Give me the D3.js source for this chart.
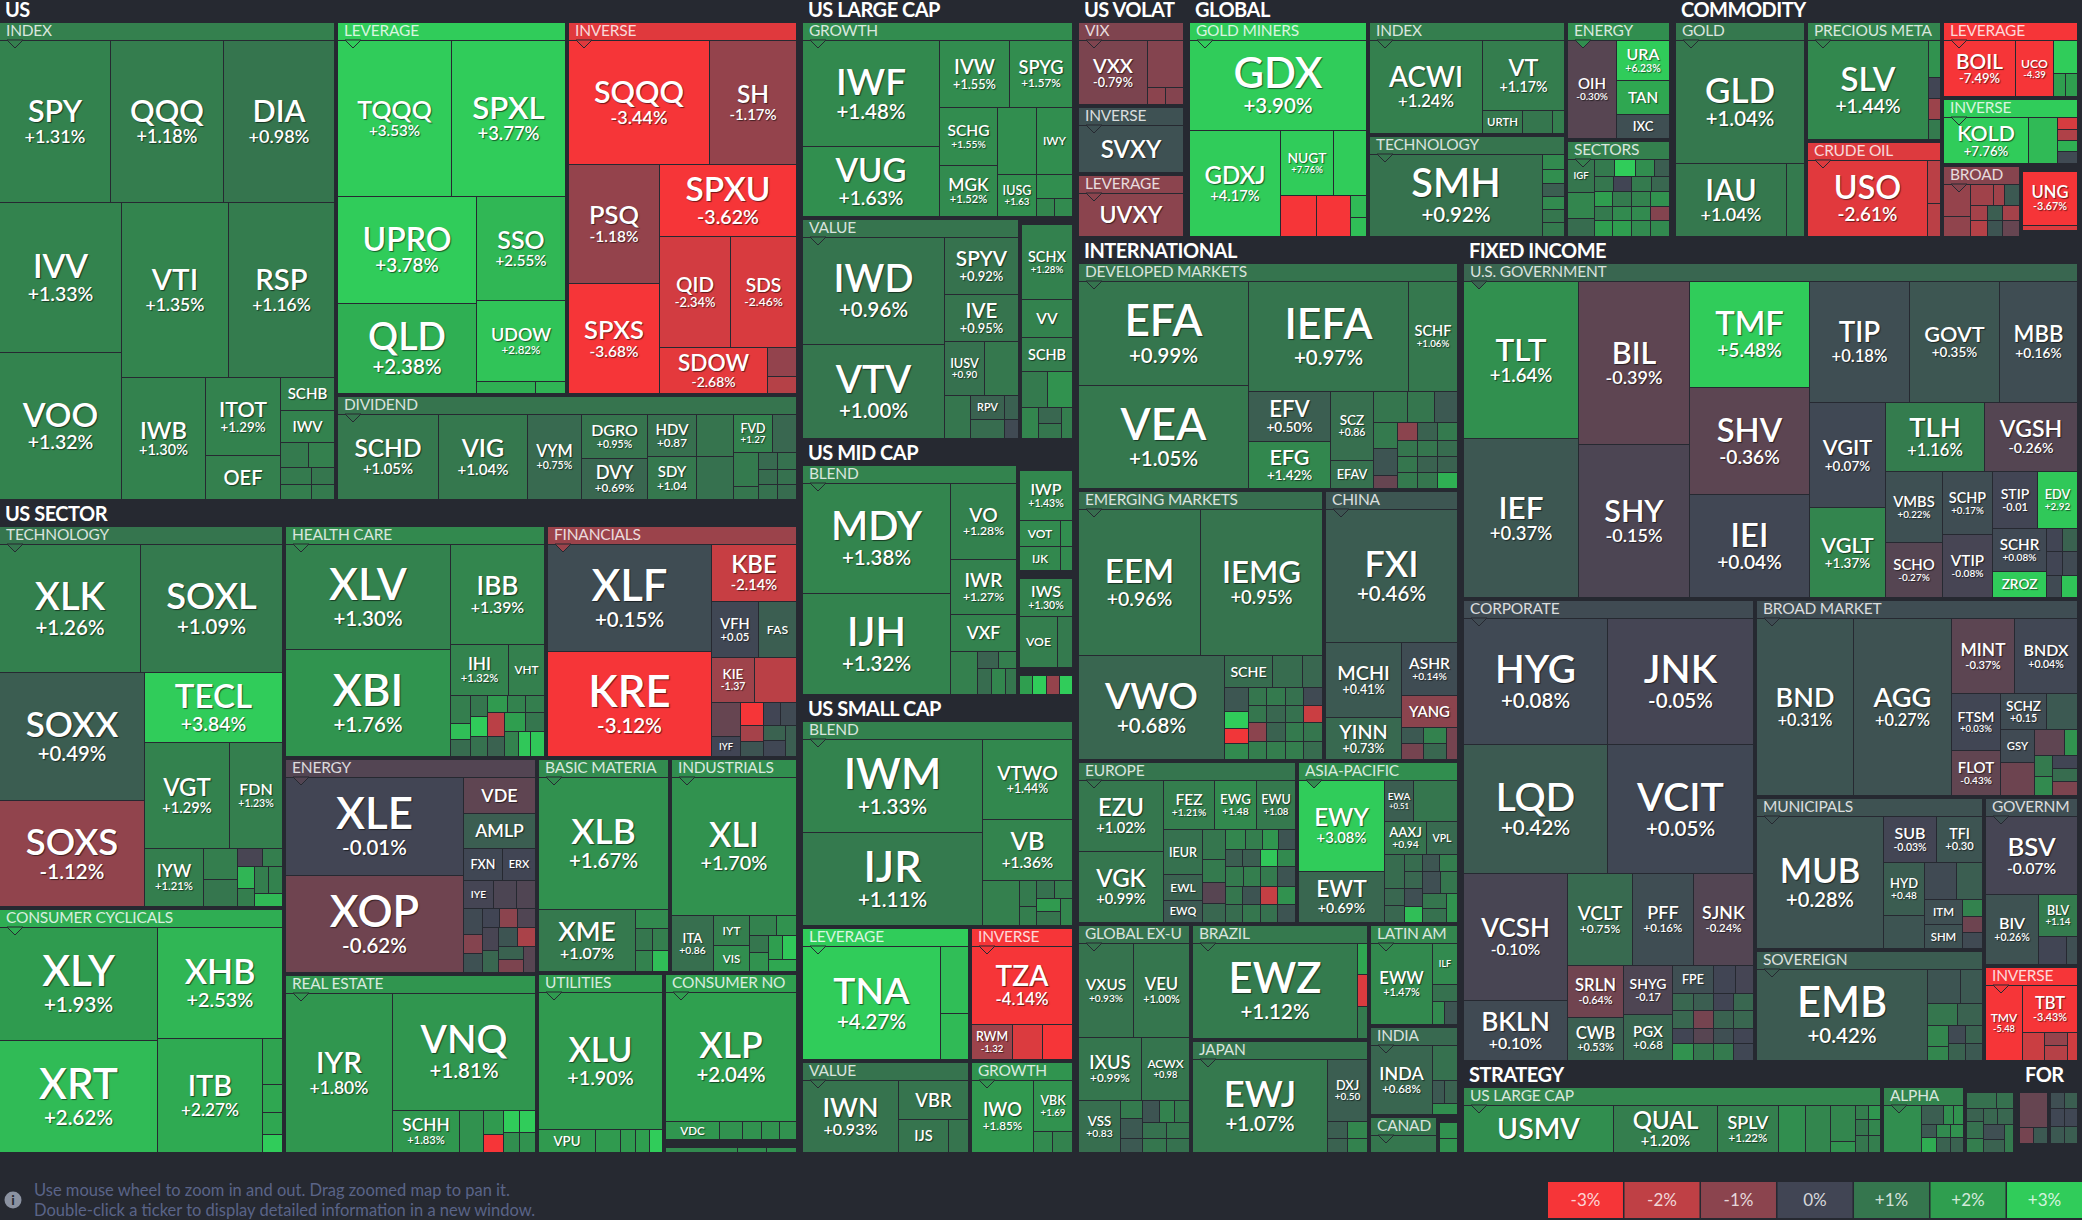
<!DOCTYPE html>
<html>
<head>
<meta charset="utf-8">
<title>ETF map</title>
<script src="https://cdn.jsdelivr.net/npm/d3@7"></script>
<style>
  html, body { margin: 0; padding: 0; background: #262931; overflow: hidden; }
  svg { display: block; font-family: Lato, "Open Sans", sans-serif; }
  .ticker, .change { fill: #fff; font-weight: 600; text-anchor: middle; text-shadow: 1px 1px 1px rgba(0, 0, 0, 0.55); }
</style>
</head>
<body>
<svg id="map" width="2082" height="1220"></svg>
<script>
// Each row is [ticker, change, size]. A string change is printed in the cell,
// a plain number only sets the colour. Size is the cell's treemap value.
// Strip lists say how a block is cut: n > 0 a row of n cells across the top,
// n < 0 a column of n cells down the left.

// --- US ---
var usIndex = [["SPY","+1.31%",17982],["QQQ","+1.18%",18144],["DIA","+0.98%",17982],["IVV","+1.33%",18178],["VOO","+1.32%",17934],["VTI","+1.35%",18444],["RSP","+1.16%",18444],["IWB","+1.30%",10126],["ITOT","+1.29%",5850],["OEF",1.25,3300],["SCHB",1.3,1782],["IWV",1.3,1728],["",1.1,700],["",1.25,650],["",1.1,527],["",1.2,465],["",1.0,391],["",1.1,345]];
var usIndexStrips = [3,-2,2,-1,-2,1,1,2,-2,1,1];
var usLeverage = [["TQQQ","+3.53%",17628],["SPXL","+3.77%",17784],["UPRO","+3.78%",14628],["QLD","+2.38%",12420],["SSO","+2.55%",9167],["UDOW","+2.82%",7209],["",2.4,708],["",2.5,360]];
var usLeverageStrips = [2,-2,1,1,-1,-1];
var usInverse = [["SQQQ","-3.44%",17360],["SH","-1.17%",10788],["PSQ","-1.18%",10738],["SPXS","-3.68%",10010],["SPXU","-3.62%",9656],["QID","-2.34%",7770],["SDS","-2.46%",7326],["SDOW","-2.68%",4922],["",-1.15,841],["",-1.8,493]];
var usInverseStrips = [2,-2,1,2,-1,1,1];
var usDividend = [["SCHD","+1.05%",8585],["VIG","+1.04%",7565],["VYM","+0.75%",4505],["DGRO","+0.95%",2904],["DVY","+0.69%",2706],["HDV","+0.87",2058],["SDY","+1.04",2107],["",0.95,1554],["",0.9,1591],["FVD","+1.27",1482],["",0.7,912],["",1.1,850],["",1.0,325],["",0.75,323],["",0.9,323],["",0.8,285],["",0.9,285],["",0.9,285],["",0.8,285]];
var usDividendStrips = [-1,-1,-1,-2,-2,-2,2,-2,2,2,2];

// --- US large cap ---
var lcGrowth = [["IWF","+1.48%",14280],["VUG","+1.63%",9520],["IVW","+1.55%",4690],["SPYG","+1.57%",4221],["SCHG","+1.55%",3306],["MGK","+1.52%",2958],["",1.6,2574],["IWY",1.6,2376],["IUSG","+1.63",1638],["",1.6,864],["",1.4,324],["",1.5,324]];
var lcGrowthStrips = [-2,2,-2,2,-1,1,2];
var lcValue = [["IWD","+0.96%",15087],["VTV","+1.00%",13254],["SPYV","+0.92%",4161],["IVE","+0.95%",3431],["IUSV","+0.90",2160],["",1.05,1782],["",1.0,1118],["RPV",0.6,816],["",0.55,312],["",0.8,646],["",0.1,247]];
var lcValueStrips = [-2,1,1,2,-1,2,2];
var lcOther = [["SCHX","+1.28%",3750],["VV",1.3,1850],["SCHB",1.2,1700],["",1.1,936],["",1.7,864],["",1.4,527],["",0.7,352],["",1.0,330],["",1.2,341]];
var lcOtherStrips = [1,1,1,2,-1,-2,-1];

// --- US mid cap ---
var mcBlend = [["MDY","+1.38%",16126],["IJH","+1.32%",14818],["VO","+1.28%",5016],["IWR","+1.27%",3630],["VXF",1.3,2442],["",1.25,1148],["",0.6,357],["",1.2,306],["",0.8,357],["",1.4,357],["",1.0,280]];
var mcBlendStrips = [-2,1,1,1,-1,2,3];
var mcGrowth = [["IWP","+1.43%",2574],["VOT",1.5,1040],["",1.6,312],["IJK",1.45,940],["",1.5,282]];
var mcGrowthStrips = [1,2,2];
var mcValue = [["IWS","+1.30%",1976],["VOE",1.2,1887],["",1.1,765]];
var mcValueStrips = [1,2];
var mcSmall = [["",2.0,234],["",3,234],["",-1.2,234],["",3,234]];

// --- US small cap ---
var scBlend = [["IWM","+1.33%",16737],["IJR","+1.11%",16737],["VTWO","+1.44%",7200],["VB","+1.36%",5490],["",1.25,1702],["",1.1,442],["",1.2,340],["",0.9,324],["",1.2,324],["",1.9,312],["",0.95,336],["",1.4,336]];
var scBlendStrips = [-2,1,1,-1,-2,2,-2,-1];
var scLeverage = [["TNA","+4.27%",15344],["",2.7,1848],["",2.6,1288]];
var scLeverageStrips = [-1,1,1];
var scInverse = [["TZA","-4.14%",7654],["RWM","-1.32",1400],["",-2.5,1050],["",-3.3,1050]];
var scInverseStrips = [1,3];
var scValue = [["IWN","+0.93%",6840],["VBR",0.95,2730],["IJS",0.95,1650],["",0.95,660]];
var scValueStrips = [-1,1,2];
var scGrowth = [["IWO","+1.85%",4356],["VBK","+1.69",1989],["",1.5,399],["",1.3,420]];
var scGrowthStrips = [-1,1,2];

// --- US sector ---
var secTech = [["XLK","+1.26%",17928],["SOXL","+1.09%",17992],["SOXX","+0.49%",18307],["SOXS","-1.12%",15275],["TECL","+3.84%",9646],["VGT","+1.29%",8957],["FDN","+1.23%",5512],["IYW","+1.21%",3422],["",1.2,1042],["",1.0,907],["",-0.1,450],["",1.2,351],["",2.5,385],["",1.2,315],["",1.2,365],["",1.3,365],["",2.6,351]];
var secTechStrips = [2,-2,1,2,-1,-2,2,-2,2,1];
var secCyclical = [["XLY","+1.93%",17662],["XRT","+2.62%",17584],["XHB","+2.53%",13820],["ITB","+2.27%",11865],["",2.1,887],["",2.2,546],["",2.2,429],["",3,341]];
var secCyclicalStrips = [-2,1,-1,1,1,1,1];
var secHealth = [["XLV","+1.30%",17220],["XBI","+1.76%",17384],["IBB","+1.39%",9247],["IHI","+1.32%",2958],["VHT",1.25,1805],["",1.2,554],["",2.7,334],["",0.8,342],["",1.0,338],["",3,322],["",0.9,330],["",1.9,335],["",1.3,311],["",1.2,313],["",-1.9,391],["",0.6,340],["",2.0,395],["",1.0,346],["",1.3,346],["",2.9,296],["",2.9,331]];
var secHealthStrips = [-2,1,2,-3,-3,3,-2,2,3];
var secFinancial = [["XLF","+0.15%",17331],["KRE","-3.12%",17168],["KBE","-2.14%",4774],["VFH","+0.05",2609],["FAS",0.5,2081],["KIE","-1.37",1957],["",-1.9,1888],["",-0.5,986],["IYF",0.0,565],["",-3.1,518],["",-1.5,360],["",0.3,331],["",0.0,391],["",0.1,368],["",0.6,324],["",0.05,333],["",0.5,349]];
var secFinancialStrips = [-2,1,2,2,-2,-3,2,-2,-1];
var secEnergy = [["XLE","-0.01%",17346],["XOP","-0.62%",17169],["VDE",-0.4,2599],["AMLP",0.5,2434],["FXN",0.05,1248],["ERX",0.0,1043],["IYE",-0.05,831],["",-0.15,637],["",-0.2,515],["",0.1,478],["",-0.9,350],["",0.25,355],["",0.0,347],["",-1.0,355],["",-0.2,347],["",-0.1,368],["",0.7,346],["",0.3,350],["",-1.6,331],["",0.6,331],["",-0.8,337],["",-0.3,302]];
var secEnergyStrips = [-2,1,1,2,3,-3,3,-2,2,-2,-1];
var secBasic = [["XLB","+1.67%",17028],["XME","+1.07%",6000],["",1.5,644],["",1.0,355],["",1.2,355],["",1.3,355],["",2.7,355]];
var secBasicStrips = [1,-1,1,2,2];
var secIndustrial = [["XLI","+1.70%",17153],["ITA","+0.86",2296],["IYT",1.2,1065],["VIS",1.6,923],["",1.3,536],["",1.7,380],["",1.0,323],["",1.7,361],["",2.0,330],["",2.9,330],["",2.2,347]];
var secIndustrialStrips = [1,-1,-2,2,-2,2,1];
var secRealEstate = [["IYR","+1.80%",17012],["VNQ","+1.81%",16567],["SCHH","+1.83%",2751],["",1.7,1008],["",1.9,480],["",-3.1,360],["",3,352],["",3,343],["",1.6,312],["",1.7,320]];
var secRealEstateStrips = [-1,1,-1,-1,-2,2,2];
var secUtilities = [["XLU","+1.90%",16947],["VPU",1.9,1322],["",1.9,597],["",1.9,339],["",2.0,316],["",3,320]];
var secUtilitiesStrips = [1,5];
var secStaples = [["XLP","+2.04%",16770],["VDC",1.8,979],["",1.7,412],["",1.7,348],["",1.7,329],["",1.7,311]];
var secStaplesStrips = [1,5];
var secOther = [["",1.5,340],["",1.6,135],["",1.6,142]];

// --- US volatility ---
var volVix = [["VXX","-0.79%",4345],["",-0.9,1634],["",-1.0,280],["",-0.9,280]];
var volVixStrips = [-1,1,2];
var volInverse = [["SVXY",0.25,4000]];
var volLeverage = [["UVXY",-1.0,4000]];

// --- Global ---
var globalGold = [["GDX","+3.90%",15806],["GDXJ","+4.17%",9555],["NUGT","+7.76%",3425],["",3.5,2145],["",-3.5,1440],["",-3.5,1340],["",2.6,344],["",2.7,299]];
var globalGoldStrips = [1,-1,2,-1,-1,1,1];
var globalIndex = [["ACWI","+1.24%",10360],["VT","+1.17%",5658],["URTH",1.05,940],["",1.0,705],["",1.2,282]];
var globalIndexStrips = [-1,1,3];
var globalTech = [["SMH","+0.92%",13863],["",1.5,326],["",1.6,304],["",0.5,293],["",1.5,293],["",1.0,293],["",1.1,293]];
var globalTechStrips = [-1,1,1,1,1,1,1];
var globalEnergy = [["OIH","-0.30%",4670],["URA","+6.23%",2094],["TAN",2.2,1802],["IXC",0.2,1272]];
var globalEnergyStrips = [-1,1,1,1];
var globalSectors = [["IGF",1.0,833],["",1.4,669],["",0.8,463],["",1.1,347],["",3,340],["",1.6,323],["",0.5,255],["",1.0,280],["",0.0,270],["",1.1,278],["",0.7,270],["",2.0,265],["",1.1,265],["",1.3,265],["",1.7,265],["",1.1,265],["",1.5,265],["",1.5,265],["",-0.9,265],["",2.0,290],["",2.0,290],["",1.5,290],["",1.5,290]];
var globalSectorsStrips = [-3,4,4,4,4,4];

// --- Commodity ---
var comGold = [["GLD","+1.04%",15643],["IAU","+1.04%",7920],["",1.1,1274]];
var comGoldStrips = [1,2];
var comPrecious = [["SLV","+1.44%",11722],["",1.7,462],["",0.0,267],["",-1.3,260],["",1.1,260]];
var comPreciousStrips = [-1,1,1,1,1];
var comCrude = [["USO","-2.61%",8877],["",-1.9,546],["",-1.9,416]];
var comCrudeStrips = [-1,1,1];
var comLeverage = [["BOIL","-7.49%",3961],["UCO","-4.39",2050],["",3,792],["",2.0,269],["",2.0,269]];
var comLeverageStrips = [-1,-1,1,2];
var comInverse = [["KOLD","+7.76%",3901],["",2.6,1363],["",-2.4,241],["",-1.7,220],["",2.4,220],["",0.1,241]];
var comInverseStrips = [-1,-1,1,1,1,1];
var comBroad = [["",-1.2,822],["",-1.1,494],["",-1.4,429],["",-1.4,215],["",0.4,283],["",-1.5,243],["",0.5,225],["",-1.5,248],["",-1.8,243],["",0.3,225],["",-0.5,248]];
var comBroadStrips = [-2,3,3,3];
var comOther = [["UNG","-3.67%",2840],["",-2.5,245],["",null,300]];

// --- International ---
var intlDeveloped = [["EFA","+0.99%",17473],["VEA","+1.05%",17356],["IEFA","+0.97%",17575],["SCHF","+1.06%",5365],["EFV","+0.50%",4050],["EFG","+1.42%",3807],["SCZ","+0.86",2877],["EFAV",0.9,1168],["",1.0,1059],["",1.0,825],["",0.4,705],["",1.1,643],["",0.3,643],["",-0.5,314],["",-1.0,352],["",0.6,360],["",1.1,352],["",1.0,320],["",1.0,320],["",0.8,320],["",1.0,320],["",0.6,320],["",0.6,320],["",1.1,305],["",1.0,305],["",2.4,305]];
var intlDevelopedStrips = [-2,2,-2,-2,3,-3,3,3,3,3];
var intlEmerging = [["EEM","+0.96%",17690],["IEMG","+0.95%",17632],["VWO","+0.68%",14872],["SCHE",0.8,1517],["",0.8,921],["",0.7,632],["",0.35,582],["",3,389],["",-2.9,363],["",1.5,389],["",1.0,323],["",1.1,323],["",0.9,323],["",0.1,340],["",1.0,315],["",0.7,315],["",0.9,315],["",-2.2,330],["",-1.0,350],["",0.6,350],["",1.1,350],["",1.0,370],["",1.2,320],["",1.2,320],["",1.2,320],["",0.8,340]];
var intlEmergingStrips = [2,-1,3,-4,4,4,4,4];
var intlChina = [["FXI","+0.46%",17502],["MCHI","+0.41%",5580],["YINN","+0.73%",3150],["ASHR","+0.14%",2968],["YANG",-1.0,1775],["",0.4,352],["",-0.7,352],["",1.3,368],["",0.7,368],["",-0.7,352]];
var intlChinaStrips = [1,-2,1,1,-2,-2,-1];
var intlEurope = [["EZU","+1.02%",5816],["VGK","+0.99%",5899],["FEZ","+1.21%",2423],["EWG","+1.48",1995],["EWU","+1.08",1900],["IEUR",0.9,1665],["EWL",0.6,962],["EWQ",0.4,840],["",1.0,652],["",1.1,517],["",-0.3,472],["",0.7,443],["",1.4,360],["",1.2,324],["",1.8,288],["",0.3,324],["",0.5,303],["",0.5,298],["",2.9,298],["",1.5,324],["",1.1,330],["",1.2,323],["",1.1,323],["",0.3,350],["",1.0,311],["",0.3,306],["",-2.1,306],["",1.7,333],["",0.8,303],["",1.0,298],["",0.9,298],["",0.3,324]];
var intlEuropeStrips = [-2,3,-3,-4,4,4,4,4,4];
var intlAsia = [["EWY","+3.08%",7682],["EWT","+0.69%",4320],["EWA","+0.51",1187],["",1.0,1770],["AAXJ","+0.94",1365],["VPL",0.75,1008],["",0.8,656],["",0.7,328],["",0.7,338],["",0.8,298],["",0.35,289],["",1.2,306],["",0.7,313],["",0.2,332],["",2.7,304],["",0.2,380],["",1.0,369],["",1.0,345],["",0.9,333],["",1.7,339]];
var intlAsiaStrips = [-2,2,2,-3,3,-3,2,-2,-1];
var intlGlobal = [["VXUS","+0.93%",5069],["VEU","+1.00%",5162],["IXUS","+0.99%",3938],["ACWX","+0.98",2993],["VSS","+0.83",2132],["",1.1,409],["",0.4,454],["",0.4,318],["",0.3,367],["",1.3,315],["",1.1,337],["",0.9,361],["",1.0,366],["",1.0,322],["",0.9,326]];
var intlGlobalStrips = [2,2,-1,-3,3,2,2];
var intlBrazil = [["EWZ","+1.12%",15416],["",2.2,295],["",-2.5,320],["",1.1,310]];
var intlBrazilStrips = [-1,1,1,1];
var intlJapan = [["EWJ","+1.07%",12322],["DXJ","+0.50",2483],["",0.5,320],["",1.4,325],["",0.6,286],["",1.3,290]];
var intlJapanStrips = [-1,1,2,2];
var intlLatin = [["EWW","+1.47%",4870],["ILF",1.5,1012],["",0.9,405],["",1.5,282],["",0.3,306]];
var intlLatinStrips = [-1,1,1,2];
var intlIndia = [["INDA","+0.68%",4138],["",0.9,860],["",0.4,291],["",0.6,298],["",1.6,271]];
var intlIndiaStrips = [-1,1,2,1];
var intlCanada = [["",1.0,1000]];
var intlOther = [["",1.7,240],["",1.7,220]];

// --- Fixed income ---
var fiGovernment = [["TLT","+1.64%",18112],["IEF","+0.37%",18204],["BIL","-0.39%",18067],["SHY","-0.15%",16829],["TMF","+5.48%",12780],["SHV","-0.36%",12780],["IEI","+0.04%",12336],["TIP","+0.18%",12089],["GOVT","+0.35%",10935],["MBB","+0.16%",9477],["VGIT","+0.07%",7917],["VGLT","+1.37%",6733],["TLH","+1.16%",6754],["VGSH","-0.26%",6370],["VMBS","+0.22%",4047],["SCHO","-0.27%",3124],["SCHP","+0.17%",3143],["VTIP","-0.08%",3084],["STIP","-0.01",2594],["EDV","+2.92",2252],["SCHR","+0.08%",2300],["ZROZ",3,1415],["",0.0,352],["",0.6,330],["",0.0,378],["",0.1,354],["",0.1,327],["",2.8,349]];
var fiGovernmentStrips = [-2,-2,-3,3,-2,2,-2,-2,2,-2,2,2,2];
var fiCorporate = [["HYG","+0.08%",18043],["JNK","-0.05%",18308],["LQD","+0.42%",18330],["VCIT","+0.05%",18598],["VCSH","-0.10%",13043],["BKLN","+0.10%",6254],["VCLT","+0.75%",5815],["PFF","+0.16%",5562],["SJNK","-0.24%",5418],["SRLN","-0.64%",2846],["CWB","+0.53%",2390],["SHYG","-0.17",2420],["PGX","+0.68",2299],["FPE",0.2,1172],["",0.0,611],["",-0.05,523],["",0.7,340],["",0.5,340],["",0.0,332],["",0.7,340],["",0.7,346],["",-0.7,346],["",0.6,337],["",0.7,346],["",0.0,312],["",-0.3,312],["",0.2,304],["",0.0,312],["",1.7,340],["",1.0,340],["",1.1,332],["",0.05,340]];
var fiCorporateStrips = [2,2,-2,3,-2,-2,3,4,4,4,4];
var fiBroad = [["BND","+0.31%",17013],["AGG","+0.27%",17154],["MINT","-0.37%",4755],["BNDX","+0.04%",4695],["FTSM","+0.03%",2793],["FLOT","-0.43%",2171],["SCHZ","+0.15",1641],["",0.4,1076],["GSY",0.1,1132],["",-0.6,1095],["",-0.4,780],["",1.7,338],["",1.1,372],["",1.5,336],["",0.0,336],["",0.8,336],["",-0.8,336]];
var fiBroadStrips = [-1,-1,2,-2,2,-2,2,-2,1,1,1];
var fiMuni = [["MUB","+0.28%",16658],["SUB","-0.03%",2460],["TFI","+0.30",2144],["HYD","+0.48",2157],["",0.3,1345],["",0.1,1141],["",0.5,947],["ITM",0.2,954],["SHM",0.25,905],["",1.3,340],["",-0.6,320],["",0.1,320]];
var fiMuniStrips = [-1,2,-2,2,-2,1,1,1];
var fiSovereign = [["EMB","+0.42%",15470],["",0.3,1122],["",0.4,748],["",1.0,642],["",0.6,535],["",1.4,451],["",1.4,294],["",0.1,306],["",0.6,306],["",0.6,298],["",0.4,298]];
var fiSovereignStrips = [-1,2,2,-2,2,2];
var fiGovernm = [["BSV","-0.07%",7078],["BIV","+0.26%",3640],["BLV","+1.14",1610],["",0.0,767],["",0.2,312]];
var fiGovernmStrips = [1,-1,1,2];
var fiInverse = [["TMV","-5.48",2712],["TBT","-3.43%",2527],["",-2.2,616],["",-1.2,294],["",-1.8,336],["",-2.3,280]];
var fiInverseStrips = [-1,1,-1,-2,-1];

// --- Strategy and foreign ---
var stratLarge = [["USMV",1.6,6824],["QUAL","+1.20%",4717],["SPLV","+1.22%",2762],["",1.6,1237],["",1.4,1099],["",1.4,912],["",1.7,265],["",1.2,166],["",1.0,200],["",1.0,206],["",1.8,162],["",1.4,195],["",1.2,202]];
var stratLargeStrips = [-1,-1,-1,-1,-1,-2,-3,-3];
var stratAlpha = [["",1.6,1672],["",0.5,389],["",1.6,195],["",1.7,177],["",0.4,182],["",1.5,169],["",1.7,156],["",2.3,210],["",0.6,195],["",0.6,180]];
var stratAlphaStrips = [-1,3,3,3];
var stratOther = [["",0.9,435],["",0.9,248],["",0.6,221],["",0.9,272],["",1.2,235],["",0.7,215],["",0.7,255],["",0.2,280],["",0.6,260],["",1.1,230]];
var stratOtherStrips = [2,-3,2,-2,-1];
var foreignOne = [["",-0.5,941],["",-0.7,220],["",0.4,220],["",null,252]];
var foreignOneStrips = [1,2,1];
var foreignTwo = [["",0.2,195],["",0.5,195],["",0.05,227],["",0.05,228],["",0.4,217],["",0.5,217],["",null,234]];
var foreignTwoStrips = [2,2,2,1];

// legend
var legendLabels = ["-3%","-2%","-1%","0%","+1%","+2%","+3%"];
var legendValues = [-3,-2,-1,0,1,2,3];
var legendColors = ["#f63538","#bf4045","#8b444e","#414554","#35764e","#2f9e4f","#30cc5a"];

var helpLines = ["Use mouse wheel to zoom in and out. Drag zoomed map to pan it.", "Double-click a ticker to display detailed information in a new window."];

// Build a labelled block from one of the row lists
function block(title, weight, rows, strips) {
    return {
        title: title, weight: weight, strips: strips,
        children: rows.map(r => ({ name: r[0], change: r[1], size: r[2] }))
    };
}
function market(title, weight, strips, blocks) {
    return { title: title, weight: weight, strips: strips, children: blocks };
}

var markets = [
    market("US", 404712, [-1,2,1], [
        block("INDEX", 162240, usIndex, usIndexStrips),
        block("LEVERAGE", 86394, usLeverage, usLeverageStrips),
        block("INVERSE", 86394, usInverse, usInverseStrips),
        block("DIVIDEND", 48972, usDividend, usDividendStrips)]),
    market("US SECTOR", 524359, [-2,2,-2,2,-1,1,1], [
        block("TECHNOLOGY", 109347, secTech, secTechStrips),
        block("CONSUMER CYCLICALS", 70233, secCyclical, secCyclicalStrips),
        block("HEALTH CARE", 61116, secHealth, secHealthStrips),
        block("FINANCIALS", 58763, secFinancial, secFinancialStrips),
        block("ENERGY", 54756, secEnergy, secEnergyStrips),
        block("REAL ESTATE", 45630, secRealEstate, secRealEstateStrips),
        block("BASIC MATERIA", 28660, secBasic, secBasicStrips),
        block("INDUSTRIALS", 27456, secIndustrial, secIndustrialStrips),
        block("UTILITIES", 23059, secUtilities, secUtilitiesStrips),
        block("CONSUMER NO", 22445, secStaples, secStaplesStrips),
        block("", 1737, secOther, [3])]),
    market("US LARGE CAP", 122268, [1,2], [
        block("GROWTH", 53781, lcGrowth, lcGrowthStrips),
        block("VALUE", 48507, lcValue, lcValueStrips),
        block("", 12099, lcOther, lcOtherStrips)]),
    market("US MID CAP", 70518, [-1,1,1,1], [
        block("BLEND", 50452, mcBlend, mcBlendStrips),
        block("", 6048, mcGrowth, mcGrowthStrips),
        block("", 5488, mcValue, mcValueStrips),
        block("", 1484, mcSmall, [4])]),
    market("US SMALL CAP", 126546, [1,2,2], [
        block("BLEND", 56866, scBlend, scBlendStrips),
        block("LEVERAGE", 22635, scLeverage, scLeverageStrips),
        block("INVERSE", 13865, scInverse, scInverseStrips),
        block("VALUE", 15796, scValue, scValueStrips),
        block("GROWTH", 9675, scGrowth, scGrowthStrips)]),
    market("US VOLAT", 26597, [1,1,1], [
        block("VIX", 9126, volVix, volVixStrips),
        block("INVERSE", 7430, volInverse, [1]),
        block("LEVERAGE", 6847, volLeverage, [1])]),
    market("GLOBAL", 117149, [-1,-2,-2], [
        block("GOLD MINERS", 39071, globalGold, globalGoldStrips),
        block("INDEX", 22666, globalIndex, globalIndexStrips),
        block("TECHNOLOGY", 20306, globalTech, globalTechStrips),
        block("ENERGY", 12495, globalEnergy, globalEnergyStrips),
        block("SECTORS", 10258, globalSectors, globalSectorsStrips)]),
    market("COMMODITY", 98157, [-1,-2,1,1,-1,-1], [
        block("GOLD", 28604, comGold, comGoldStrips),
        block("PRECIOUS META", 16383, comPrecious, comPreciousStrips),
        block("CRUDE OIL", 13153, comCrude, comCrudeStrips),
        block("LEVERAGE", 10526, comLeverage, comLeverageStrips),
        block("INVERSE", 9213, comInverse, comInverseStrips),
        block("BROAD", 5661, comBroad, comBroadStrips),
        block("", 4222, comOther, [1,1,1])]),
    market("INTERNATIONAL", 352958, [1,2,2,-1,-2,1,1,2], [
        block("DEVELOPED MARKETS", 87058, intlDeveloped, intlDevelopedStrips),
        block("EMERGING MARKETS", 67117, intlEmerging, intlEmergingStrips),
        block("CHINA", 36558, intlChina, intlChinaStrips),
        block("EUROPE", 35997, intlEurope, intlEuropeStrips),
        block("ASIA-PACIFIC", 26422, intlAsia, intlAsiaStrips),
        block("GLOBAL EX-U", 26174, intlGlobal, intlGlobalStrips),
        block("BRAZIL", 20564, intlBrazil, intlBrazilStrips),
        block("JAPAN", 20350, intlJapan, intlJapanStrips),
        block("LATIN AM", 9151, intlLatin, intlLatinStrips),
        block("INDIA", 8055, intlIndia, intlIndiaStrips),
        block("CANAD", 2614, intlCanada, [1]),
        block("", 798, intlOther, [1,1])]),
    market("FIXED INCOME", 511025, [1,-1,1,-2,-2], [
        block("U.S. GOVERNMENT", 207858, fiGovernment, fiGovernmentStrips),
        block("CORPORATE", 135679, fiCorporate, fiCorporateStrips),
        block("BROAD MARKET", 64184, fiBroad, fiBroadStrips),
        block("MUNICIPALS", 35121, fiMuni, fiMuniStrips),
        block("SOVEREIGN", 25808, fiSovereign, fiSovereignStrips),
        block("GOVERNM", 16035, fiGovernm, fiGovernmStrips),
        block("INVERSE", 9091, fiInverse, fiInverseStrips)]),
    market("STRATEGY", 50949, [-1,-1,-1], [
        block("US LARGE CAP", 28476, stratLarge, stratLargeStrips),
        block("ALPHA", 5600, stratAlpha, stratAlphaStrips),
        block("", 3356, stratOther, stratOtherStrips)]),
    market("FOR", 5918, [-1,-1], [
        block("", 2067, foreignOne, foreignOneStrips),
        block("", 1930, foreignTwo, foreignTwoStrips)])
];

var background = "#262931";
var color = d3.scaleLinear().domain(legendValues).range(legendColors).clamp(true);

// Cuts a block into the strips listed for it, using d3's own dice and slice
function stripTile(parent, x0, y0, x1, y1) {
    var rest = d3.sum(parent.children, c => c.value), i = 0;
    parent.data.strips.forEach(function (n) {
        var row = parent.children.slice(i, i + Math.abs(n));
        i += Math.abs(n);
        var value = d3.sum(row, c => c.value), strip = { children: row, value: value };
        if (n > 0) {
            var y = y0 + (y1 - y0) * value / rest;
            d3.treemapDice(strip, x0, y0, x1, y);
            y0 = y;
        } else {
            var x = x0 + (x1 - x0) * value / rest;
            d3.treemapSlice(strip, x0, y0, x, y1);
            x0 = x;
        }
        rest -= value;
    });
}

var root = d3.hierarchy({ strips: [-2,-3,3,-1,1,-1,-1], children: markets })
    .sum(d => d.size || 0);

// A market or block covers its header as well, so it carries its own weight
root.each(function (n) { if (n.data.weight) n.value = n.data.weight; });

d3.treemap()
    .size([2077, 1150])
    .tile(stripTile)
    .round(true)
    .paddingInner(n => n.depth === 0 ? 7 : n.depth === 1 ? 4 : 1)
    .paddingTop(n => n.depth === 1 ? 21 : n.depth === 2 ? (n.data.title ? 18 : 5) : 0)(root);

var svg = d3.select("#map");
svg.append("rect").attr("width", 2082).attr("height", 1220).attr("fill", background);
var chart = svg.append("g").attr("transform", "translate(0,2)");

// --- Market titles ---
chart.append("g").selectAll("text")
    .data(root.children)
    .enter().append("text")
    .attr("x", d => d.x0 + 5)
    .attr("y", d => d.y0 + 15)
    .attr("fill", "#fff")
    .attr("font-size", 20)
    .attr("font-weight", 700)
    .attr("letter-spacing", -0.5)
    .text(d => d.data.title);

// --- Cells ---
var leaves = root.leaves().filter(d => d.data.change !== null);
chart.append("g").selectAll("rect")
    .data(leaves)
    .enter().append("rect")
    .attr("x", d => d.x0)
    .attr("y", d => d.y0)
    .attr("width", d => d.x1 - d.x0)
    .attr("height", d => d.y1 - d.y0)
    .attr("fill", d => color(parseFloat(d.data.change)));

// --- Block headers ---
var blocks = root.descendants().filter(d => d.depth === 2 && d.data.title);
function blockChange(b) {
    var cells = b.children.filter(c => c.data.change !== null);
    return d3.sum(cells, c => parseFloat(c.data.change) * c.value) / d3.sum(cells, c => c.value);
}
var headers = chart.append("g").selectAll("g").data(blocks).enter().append("g");
headers.append("rect")
    .attr("x", d => d.x0)
    .attr("y", d => d.y0)
    .attr("width", d => d.x1 - d.x0)
    .attr("height", 17)
    .attr("fill", d => color(blockChange(d)));
headers.append("path")
    .attr("d", d => `M${d.x0 + 7},${d.y0 + 17}L${d.x0 + 15},${d.y0 + 25}L${d.x0 + 23},${d.y0 + 17}Z`)
    .attr("fill", d => color(blockChange(d)))
    .attr("stroke", background);
headers.append("text")
    .attr("x", d => d.x0 + 6)
    .attr("y", d => d.y0 + 13)
    .attr("fill", "#fff")
    .attr("fill-opacity", 0.82)
    .attr("font-size", 15.5)
    .attr("letter-spacing", -0.2)
    .text(d => d.data.title);

// --- Ticker labels ---
var ctx = document.createElement("canvas").getContext("2d");
ctx.font = "600 100px Lato";
function perEm(s) { return ctx.measureText(s).width / 100; }

function labelLayout(d) {
    var w = d.x1 - d.x0, h = d.y1 - d.y0, name = d.data.name;
    var f = Math.min(0.25 * w + 3, (0.58 * w + 9) / perEm(name), 0.32 * Math.sqrt(w * h) + 2, 0.7 * h);
    var text = typeof d.data.change === "string" ? d.data.change : "";
    var g = 0;
    if (text) {
        g = Math.min(20.5, text.endsWith("%") ? 0.52 * f + 2.2 : 0.78 * f, (w - 2) / perEm(text));
    }
    var gap = text ? 0.26 * f : 0;
    var block = 0.72 * f + gap + 0.72 * g;
    var top = (d.y0 + d.y1) / 2 - block / 2;
    return { cx: (d.x0 + d.x1) / 2, f: f, g: g, text: text, y1: top + 0.72 * f, y2: top + block };
}

var named = leaves.filter(d => d.data.name).map(d => Object.assign({ cell: d }, labelLayout(d)));
var labels = chart.append("g").selectAll("g").data(named).enter().append("g");
labels.append("text")
    .attr("class", "ticker")
    .attr("x", d => d.cx)
    .attr("y", d => d.y1)
    .attr("font-size", d => d.f)
    .text(d => d.cell.data.name);
labels.filter(d => d.text).append("text")
    .attr("class", "change")
    .attr("x", d => d.cx)
    .attr("y", d => d.y2)
    .attr("font-size", d => d.g)
    .text(d => d.text);

// --- Legend ---
var legendX = d3.scaleBand().domain(legendLabels).range([1548, 2082]).paddingInner(0.02);
var legend = svg.append("g").selectAll("g").data(legendLabels).enter().append("g");
legend.append("rect")
    .attr("x", d => legendX(d))
    .attr("y", 1182)
    .attr("width", legendX.bandwidth())
    .attr("height", 36)
    .attr("fill", (d, i) => color(legendValues[i]));
legend.append("text")
    .attr("x", d => legendX(d) + legendX.bandwidth() / 2)
    .attr("y", 1206)
    .attr("text-anchor", "middle")
    .attr("font-size", 17)
    .attr("fill", "#fff")
    .attr("fill-opacity", 0.8)
    .text(d => d);

// --- Help note ---
svg.append("circle").attr("cx", 13).attr("cy", 1200).attr("r", 8.5).attr("fill", "#8b92a1");
svg.append("text")
    .attr("x", 13).attr("y", 1205)
    .attr("text-anchor", "middle")
    .attr("font-size", 14)
    .attr("font-weight", 700)
    .attr("fill", background)
    .text("i");
svg.append("g").selectAll("text")
    .data(helpLines)
    .enter().append("text")
    .attr("x", 34)
    .attr("y", (d, i) => 1196 + i * 20)
    .attr("font-size", 16.5)
    .attr("fill", "#5a6488")
    .text(d => d);
</script>
</body>
</html>
